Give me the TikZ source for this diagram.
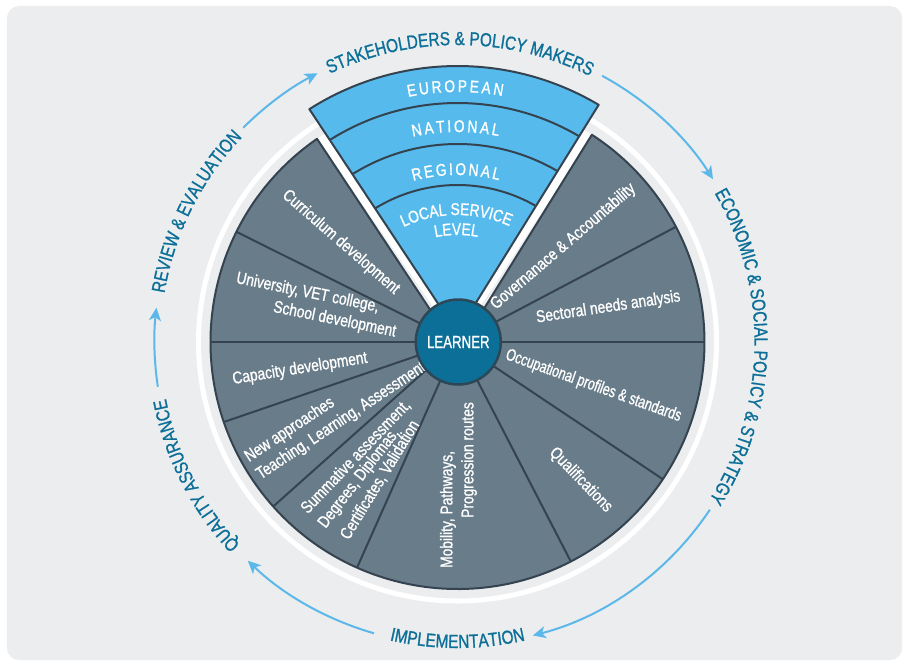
\documentclass[tikz,border=0pt]{standalone}
\usepackage{fontspec}
\usepackage{graphicx}
\setmainfont{Liberation Sans}[FakeStretch=0.81,FakeBold=1]
\usetikzlibrary{decorations.text,arrows.meta}
\definecolor{bgc}{HTML}{ECEDEF}
\definecolor{grayc}{HTML}{697C8A}
\definecolor{darkc}{HTML}{34434F}
\definecolor{bluec}{HTML}{56BBEC}
\definecolor{learnc}{HTML}{0C6F97}
\definecolor{learnb}{HTML}{2E4757}
\definecolor{tealc}{HTML}{0B6F98}
\definecolor{arrc}{HTML}{5CB8E9}
\newcommand\gfont{\fontsize{17}{21}\selectfont}
\newcommand\wfont{\fontsize{17}{19}\selectfont}
\newcommand\ofont{\fontsize{19}{21}\selectfont}
\newcommand\lfont{\fontsize{17.5}{19}\selectfont}
\tikzset{
  graysec/.style={fill=grayc, draw=darkc, line width=2pt, line join=round},
  divline/.style={draw=darkc, line width=2pt},
  wedgesec/.style={fill=bluec, draw=darkc, line width=2pt, line join=round},
  bandline/.style={draw=darkc, line width=2pt},
  gtext/.style={text=white, font=\gfont, inner sep=0pt},
  learner/.style={circle, minimum size=85pt, inner sep=0pt, fill=learnc, draw=learnb, line width=2.5pt, text=white, font=\lfont},
  arr/.style={draw=arrc, line width=2pt, -{Stealth[length=13pt, width=12pt, inset=3.5pt]}},
  outerlabel/.style={decorate, decoration={text along path, text align=center, text color=tealc, text={|\ofont|#1}}},
  wedgelabel/.style={decorate, decoration={text along path, text align=center, text color=white, text={|\wfont|#1}}}
}
\begin{document}
\begin{tikzpicture}
\useasboundingbox (-457.5pt,-323pt) rectangle (446.5pt,342pt);
\fill[white] (-457.5pt,-323pt) rectangle (446.5pt,342pt);
\fill[bgc, rounded corners=12pt] (-450.5pt,-318pt) rectangle (444.5pt,336pt);

% white ring
\draw[white, line width=5pt] (0,0) circle[radius=259pt];

% gap
\fill[white] (0,0) -- (124.66:247pt) arc[start angle=124.66, end angle=57.04, radius=247pt] -- cycle;

% gray sectors
\path[graysec] (270.85:9.26pt) -- (124.66:247pt) arc[start angle=124.66, end angle=417.04, radius=247pt] -- cycle;
\foreach \ang in {27.8,0,-33.75,-62.7,-114,-138.25,-161.1,180,153.5}
  \draw[divline] (0,0) -- (\ang:247pt);

% blue wedge
\path[wedgesec] (90.85:9.26pt) -- (122.46:276pt) arc[start angle=122.46, end angle=59.24, radius=276pt] -- cycle;
\draw[bandline] (122.30:239pt) arc[start angle=122.30, end angle=59.40, radius=239pt];
\draw[bandline] (122.05:198pt) arc[start angle=122.05, end angle=59.65, radius=198pt];
\draw[bandline] (121.68:157pt) arc[start angle=121.68, end angle=60.03, radius=157pt];

% wedge labels
\path[wedgelabel={E{\kern2.5pt}U{\kern2.5pt}R{\kern2.5pt}O{\kern2.5pt}P{\kern2.5pt}E{\kern2.5pt}A{\kern2.5pt}N}]
  (110:250pt) arc[start angle=110, end angle=71, radius=250pt];
\path[wedgelabel={N{\kern2.5pt}A{\kern2.5pt}T{\kern2.5pt}I{\kern2.5pt}O{\kern2.5pt}N{\kern2.5pt}A{\kern2.5pt}L}]
  (113:210pt) arc[start angle=113, end angle=68, radius=210pt];
\path[wedgelabel={R{\kern2.2pt}E{\kern2.2pt}G{\kern2.2pt}I{\kern2.2pt}O{\kern2.2pt}N{\kern2.2pt}A{\kern2.2pt}L}]
  (118:167pt) arc[start angle=118, end angle=63, radius=167pt];
\path[wedgelabel={LOCAL SERVICE}]
  (125:127pt) arc[start angle=125, end angle=56, radius=127pt];
\path[wedgelabel={LEVEL}]
  (115:107pt) arc[start angle=115, end angle=66, radius=107pt];

% gray sector labels
\node[gtext, rotate=-41] (cur) at (-116.7pt,99.7pt) {Curriculum development};
\node[gtext, rotate=-11.5, align=left] (uni) at (-141.3pt,36.5pt) {University, VET college,\\\hspace*{42pt}School development};
\node[gtext, rotate=9] (cap) at (-157.5pt,-27pt) {Capacity development};
\node[gtext, rotate=33.5, align=left] (new) at (-122pt,-70.3pt) {New approaches\\Teaching, Learning, Assessment};
\node[gtext, rotate=46.3] (sum1) at (-101.6pt,-114.7pt) {Summative assessment,};
\node[gtext, rotate=52.2] (sum2) at (-98.3pt,-136.4pt) {Degrees, Diplomas,};
\node[gtext, rotate=58.5] (sum3) at (-77.5pt,-138pt) {Certificates, Validation};
\node[gtext, rotate=90, align=left] (mob) at (1pt,-143pt) {Mobility, Pathways,\\\hspace*{50pt}Progression routes};
\node[gtext, rotate=-46] (qual) at (123.3pt,-138pt) {Qualifications};
\node[gtext, rotate=-19.7] (occ) at (136pt,-44pt) {\scalebox{0.9}[1]{Occupational profiles \& standards}};
\node[gtext, rotate=8.5] (sec) at (150.8pt,34.5pt) {Sectoral needs analysis};
\node[gtext, rotate=40.5] (gov) at (105.8pt,95.3pt) {Governanace \& Accountability};

% centre
\node[learner] (learner) at (0.8pt,0pt) {\scalebox{0.935}[1]{LEARNER}};

% outer labels
\path[outerlabel={STAKEHOLDERS {\&} POLICY MAKERS}]
  (119.5:297pt) arc[start angle=119.5, end angle=59.5, radius=297pt];
\path[outerlabel={ECONOMIC {\&} SOCIAL POLICY {\&} STRATEGY}]
  (35:297pt) arc[start angle=35, end angle=-37, radius=297pt];
\path[outerlabel={IMPLEMENTATION}]
  (-110:306pt) arc[start angle=-110, end angle=-70, radius=306pt];
\path[outerlabel={QUALITY ASSURANCE}]
  (226:297pt) arc[start angle=226, end angle=188, radius=297pt];
\path[outerlabel={REVIEW {\&} EVALUATION}]
  (172:297pt) arc[start angle=172, end angle=135, radius=297pt];

% cycle arrows
\draw[arr] (135:303pt) arc[start angle=135, end angle=117.5, radius=303pt];
\draw[arr] (61.5:303pt) arc[start angle=61.5, end angle=32.5, radius=303pt];
\draw[arr] (-33.6:303pt) arc[start angle=-33.6, end angle=-75.6, radius=303pt];
\draw[arr] (-106:303pt) arc[start angle=-106, end angle=-133.8, radius=303pt];
\draw[arr] (188.5:303pt) arc[start angle=188.5, end angle=173.5, radius=303pt];
\end{tikzpicture}
\end{document}
